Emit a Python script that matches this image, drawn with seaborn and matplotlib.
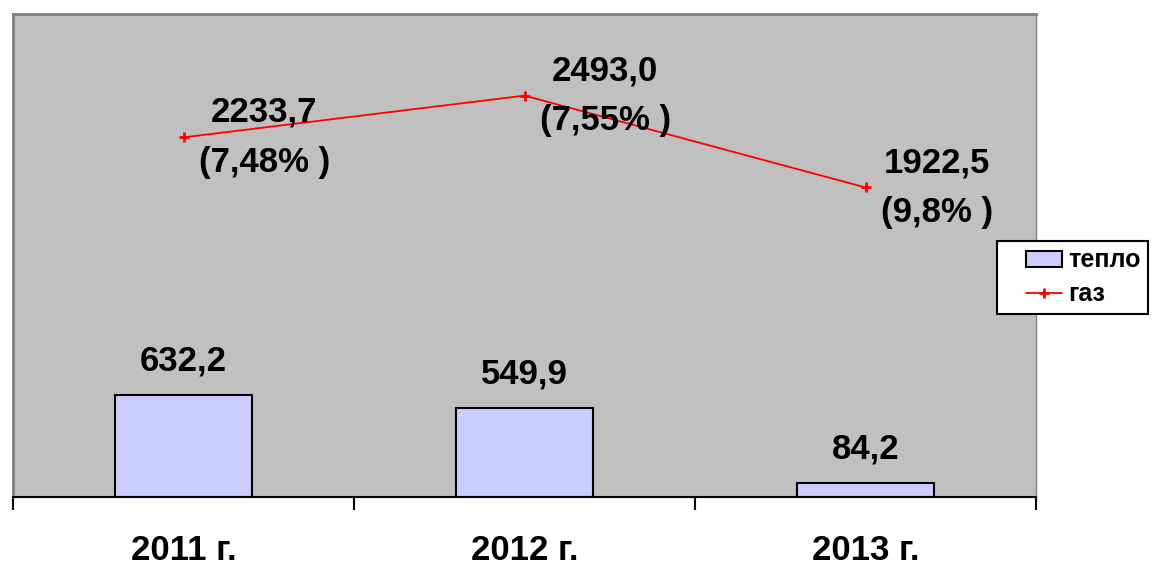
import matplotlib
matplotlib.use("Agg")
import matplotlib.pyplot as plt
import seaborn as sns
import numpy as np
import pandas as pd
from matplotlib.lines import Line2D
from matplotlib.patches import Patch
from matplotlib.legend_handler import HandlerLine2D, HandlerPatch

years = ["2011 г.", "2012 г.", "2013 г."]
heat = [632.2, 549.9, 84.2]
gas = [2233.7, 2493.0, 1922.5]
gas_share = ["7,48%", "7,55%", "9,8%"]
series_names = ["тепло", "газ"]

sns.set_style("white")
plt.rcParams["font.family"] = ["Liberation Sans", "DejaVu Sans"]
plt.rcParams["text.color"] = "black"
plt.rcParams["xtick.color"] = "black"
plt.rcParams["xtick.labelcolor"] = "black"

df = pd.DataFrame({"year": years, "heat": heat, "gas": gas})

fig = plt.figure(figsize=(11.54, 5.67), dpi=100)
ax = fig.add_axes([13/1154, 1-497/567, (1036-13)/1154, (497-14)/567])
ax.set_facecolor("#C0C0C0")

sns.barplot(data=df, x="year", y="heat", color="#CCCCFF", edgecolor="black",
            linewidth=1.5, width=0.4, saturation=1, ax=ax)
ax.plot(df["year"], df["gas"], color="red", linewidth=1.3, marker="+",
        markersize=7, markeredgewidth=2)

ax.set_xlim(-0.5, 2.5)
ax.set_ylim(0, 3000)
ax.set_yticks([])
ax.set_xlabel("")
ax.set_ylabel("")

fmt = lambda v: f"{v:.1f}".replace(".", ",")
for i, v in enumerate(heat):
    ax.annotate(fmt(v), (i, v), xytext=(0, 13), textcoords="offset points",
                ha="center", va="bottom", fontsize=25, fontweight="bold", color="black")
for i, (v, s) in enumerate(zip(gas, gas_share)):
    ax.annotate(f"{fmt(v)}\n({s} )", (i, v), xytext=(11, 0), textcoords="offset points",
                ha="left", va="center", multialignment="center",
                fontsize=25, fontweight="bold", linespacing=1.65, color="black")

# axis styling
for side in ["top", "left", "right"]:
    ax.spines[side].set_color("#808080")
ax.spines["top"].set_linewidth(2)
ax.spines["left"].set_linewidth(2)
ax.spines["right"].set_linewidth(1)
ax.spines["bottom"].set_color("black")
ax.spines["bottom"].set_linewidth(1.5)

ax.set_xticks(range(len(years)))
ax.set_xticklabels(years, fontsize=25, fontweight="bold")
ax.set_xticks([-0.5, 0.5, 1.5, 2.5], minor=True)
ax.tick_params(axis="x", which="major", bottom=True, length=0, pad=27)
ax.tick_params(axis="x", which="minor", bottom=True, length=9, width=1.5,
               color="black", direction="out")


class _RightMixin:
    visible = 1.45

    def create_artists(self, legend, orig_handle, xdescent, ydescent, width, height, fontsize, trans):
        w = self.visible * fontsize
        return super().create_artists(legend, orig_handle, xdescent - (width - w), ydescent,
                                      w, height, fontsize, trans)


class RightPatch(_RightMixin, HandlerPatch):
    pass


class RightLine(_RightMixin, HandlerLine2D):
    pass


h_patch = Patch(facecolor="#CCCCFF", edgecolor="black", linewidth=1.5)
h_line = Line2D([], [], color="red", linewidth=1.3, marker="+", markersize=7, markeredgewidth=2)
leg = fig.legend([h_patch, h_line], series_names, loc="upper left",
                 bbox_to_anchor=(997/1154, 1-241/567), frameon=True, fancybox=False,
                 framealpha=1, facecolor="white",
                 prop={"size": 18, "weight": "bold"}, handlelength=2.3, handleheight=0.6,
                 borderpad=0.3, labelspacing=0.4, handletextpad=0.25, borderaxespad=0,
                 handler_map={Patch: RightPatch(), Line2D: RightLine()})
leg.get_frame().set_edgecolor("black")
leg.get_frame().set_linewidth(1.5)

fig.savefig("out.png", dpi=100)
